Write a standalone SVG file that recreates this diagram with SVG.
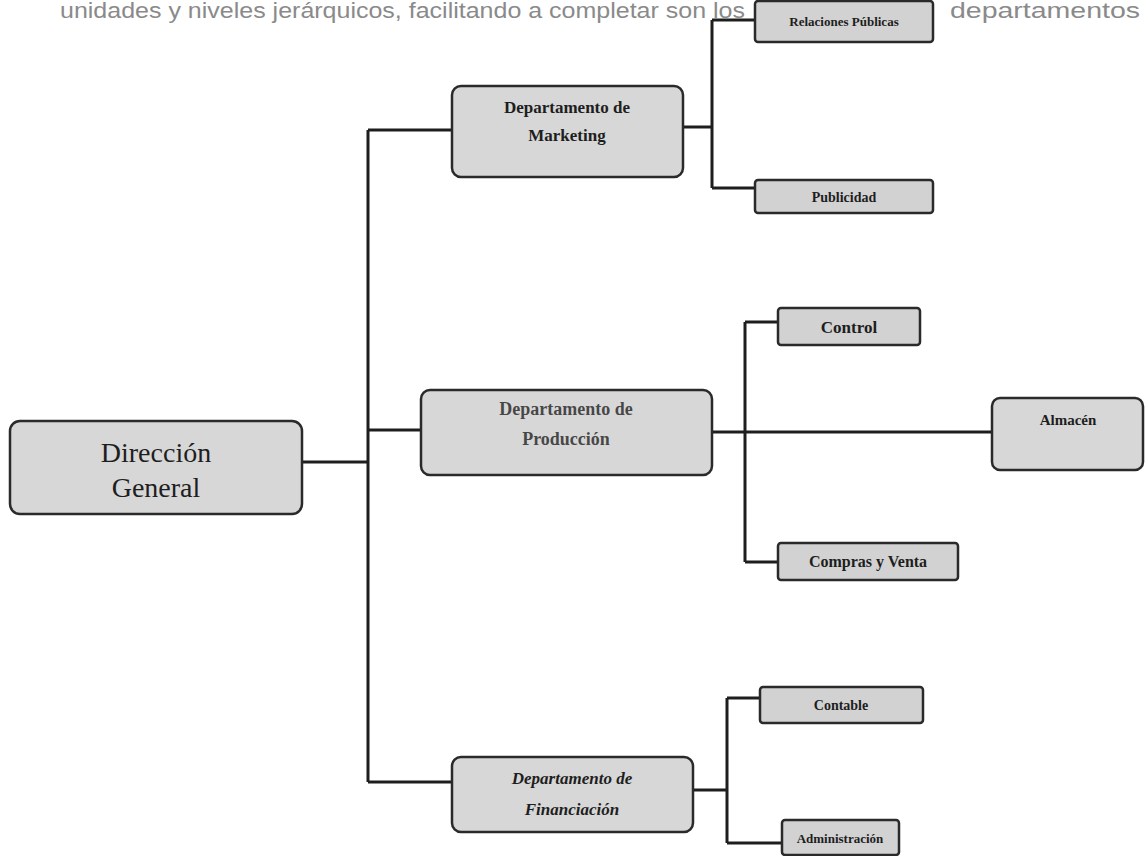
<svg xmlns="http://www.w3.org/2000/svg" width="1146" height="856" viewBox="0 0 1146 856">
<style>
.box{fill:#d7d7d7;stroke:#2a2a2a;stroke-width:2.5}
.sm{fill:#d2d2d2;stroke:#2a2a2a;stroke-width:2.5}
.t{font-family:"Liberation Serif","Times New Roman",serif;fill:#1e1e1e;text-anchor:middle;font-weight:bold}
.big{font-family:"Liberation Serif","Times New Roman",serif;fill:#1e1e1e;text-anchor:middle;font-size:28px}
.con{fill:none;stroke:#1e1e1e;stroke-width:3}
.top{font-family:"Liberation Sans",Arial,sans-serif;fill:#8a8a8a;font-size:22px}
</style>
<rect width="1146" height="856" fill="#ffffff"/>
<text class="top" x="60" y="18" textLength="685" lengthAdjust="spacingAndGlyphs">unidades y niveles jerárquicos, facilitando a completar son los</text>
<text class="top" x="950" y="18" fill="#bdbdbd" textLength="190" lengthAdjust="spacingAndGlyphs">departamentos</text>
<g id="connectors">
<path class="con" d="M302,462 H368 M368,130 V782 M368,130 H452 M368,430 H421 M368,782 H452"/>
<path class="con" d="M683,127 H712 M712,20 V188 M712,20 H755 M712,188 H755"/>
<path class="con" d="M712,432 H992 M745,322 V562 M745,322 H778 M745,562 H778"/>
<path class="con" d="M693,790 H727 M727,698 V843 M727,698 H760 M727,843 H782"/>
</g>
<g id="direccion">
<rect class="box" x="10" y="421" width="292" height="93" rx="10"/>
<text class="big" x="156" y="462">Dirección</text>
<text class="big" x="156" y="497">General</text>
</g>
<g id="marketing">
<rect class="box" x="452" y="86" width="231" height="91" rx="9"/>
<text class="t" x="567" y="113" font-size="17">Departamento de</text>
<text class="t" x="567" y="141" font-size="17">Marketing</text>
</g>
<g id="relaciones">
<rect class="sm" x="755" y="1" width="178" height="41" rx="3"/>
<text class="t" x="844" y="26" font-size="13">Relaciones Públicas</text>
</g>
<g id="publicidad">
<rect class="sm" x="755" y="180" width="178" height="33" rx="3"/>
<text class="t" x="844" y="202" font-size="14">Publicidad</text>
</g>
<g id="produccion">
<rect class="box" x="421" y="390" width="291" height="85" rx="9"/>
<text class="t" x="566" y="415" font-size="18" fill-opacity="0.8">Departamento de</text>
<text class="t" x="566" y="445" font-size="18" fill-opacity="0.8">Producción</text>
</g>
<g id="control">
<rect class="sm" x="778" y="308" width="142" height="37" rx="3"/>
<text class="t" x="849" y="333" font-size="17">Control</text>
</g>
<g id="compras">
<rect class="sm" x="778" y="543" width="180" height="37" rx="3"/>
<text class="t" x="868" y="567" font-size="16">Compras y Venta</text>
</g>
<g id="almacen">
<rect class="box" x="992" y="398" width="151" height="72" rx="8"/>
<text class="t" x="1068" y="425" font-size="15">Almacén</text>
</g>
<g id="financiacion">
<rect class="box" x="452" y="757" width="241" height="75" rx="9"/>
<text class="t" x="572" y="784" font-size="17" font-style="italic">Departamento de</text>
<text class="t" x="572" y="815" font-size="17" font-style="italic">Financiación</text>
</g>
<g id="contable">
<rect class="sm" x="760" y="687" width="163" height="36" rx="3"/>
<text class="t" x="841" y="710" font-size="14">Contable</text>
</g>
<g id="administracion">
<rect class="sm" x="782" y="820" width="117" height="35" rx="3"/>
<text class="t" x="840" y="843" font-size="13">Administración</text>
</g>
</svg>
